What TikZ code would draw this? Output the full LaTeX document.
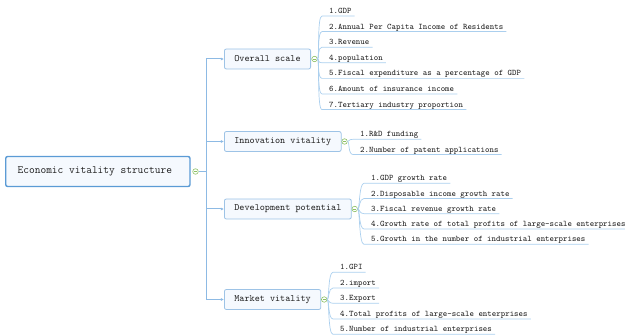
\documentclass[tikz,border=0pt]{standalone}
\usepackage{fontspec}
\usetikzlibrary{arrows.meta,calc}
\definecolor{rootedge}{HTML}{5B9BD5}
\definecolor{branchedge}{HTML}{9DC3E6}
\definecolor{boxfill}{HTML}{F5F9FE}
\definecolor{trunk}{HTML}{8DBAE4}
\definecolor{twigc}{HTML}{ABCFEE}
\definecolor{knob}{HTML}{8CC063}
\definecolor{ink}{HTML}{1E1E1E}
\begin{document}
\begin{tikzpicture}[x=1pt,y=-1pt,
  rootbox/.style={draw=rootedge,line width=1.4pt,fill=boxfill,rounded corners=2pt,
    anchor=west,minimum height=30pt,inner xsep=12pt,text=ink,
    font=\ttfamily\fontsize{11.1}{13}\selectfont},
  branchbox/.style={draw=branchedge,line width=0.8pt,fill=boxfill,rounded corners=2pt,
    anchor=west,minimum height=20pt,inner xsep=10pt,text=ink,
    font=\ttfamily\fontsize{9.7}{11}\selectfont},
  leaf/.style={anchor=south west,inner xsep=3pt,inner ysep=0.6pt,text height=6.5pt,
    text depth=1.6pt,text=ink,font=\ttfamily\fontsize{8.5}{10}\selectfont},
  toggle/.style={circle,draw=knob,fill=white,line width=0.6pt,minimum size=5.5pt,
    inner sep=0pt,path picture={\draw[knob,line width=0.5pt]
      ([xshift=-1.6pt]path picture bounding box.center) -- ([xshift=1.6pt]path picture bounding box.center);}},
  trunkline/.style={draw=trunk,line width=1pt},
  arrowline/.style={trunkline,-{Latex[length=3.2pt,width=3.2pt]}},
  twig/.style={draw=twigc,line width=0.7pt},
]
\useasboundingbox (0,0) rectangle (625,336);

% root topic
\node[rootbox] (root) at (5,171.5) {Economic vitality structure\hspace*{6pt}};
\node[toggle] (rk) at (195.5,171.5) {};
\coordinate (sp) at (206,171.5);

% main topics
\node[branchbox] (b1) at (224,59) {Overall scale};
\node[branchbox] (b2) at (224,141.5) {Innovation vitality};
\node[branchbox] (b3) at (224,209) {Development potential};
\node[branchbox] (b4) at (224,299.5) {Market vitality};

\draw[trunkline] (rk.east) -- (sp);
\foreach \b in {b1,b2,b3,b4}{
  \draw[arrowline] (sp) |- (\b.west);
}

\node[toggle] (k1) at ($(b1.east)+(3.5,0)$) {};
\node[toggle] (k2) at ($(b2.east)+(3,0)$) {};
\node[toggle] (k3) at ($(b3.east)+(3,0)$) {};
\node[toggle] (k4) at ($(b4.east)+(3,0)$) {};

% subtopics: text sits on its own underline
\node[leaf] (a1) at (322,16)    {\hspace*{4pt}1.GDP};
\node[leaf] (a2) at (322,31.6)  {\hspace*{4pt}2.Annual Per Capita Income of Residents};
\node[leaf] (a3) at (322,47.2)  {\hspace*{4pt}3.Revenue};
\node[leaf] (a4) at (322,62.8)  {\hspace*{4pt}4.population};
\node[leaf] (a5) at (322,78.4)  {\hspace*{4pt}5.Fiscal expenditure as a percentage of GDP};
\node[leaf] (a6) at (322,94)    {\hspace*{4pt}6.Amount of insurance income};
\node[leaf] (a7) at (322,109.6) {\hspace*{4pt}7.Tertiary industry proportion};

\node[leaf] (c1) at (353,139.3) {\hspace*{4pt}1.R\&D funding};
\node[leaf] (c2) at (353,154.5) {\hspace*{4pt}2.Number of patent applications};

\node[leaf] (d1) at (364,183.3) {\hspace*{4pt}1.GDP growth rate};
\node[leaf] (d2) at (364,198.5) {\hspace*{4pt}2.Disposable income growth rate};
\node[leaf] (d3) at (364,213.7) {\hspace*{4pt}3.Fiscal revenue growth rate};
\node[leaf] (d4) at (364,229)   {\hspace*{4pt}4.Growth rate of total profits of large-scale enterprises};
\node[leaf] (d5) at (364,244.3) {\hspace*{4pt}5.Growth in the number of industrial enterprises};

\node[leaf] (m1) at (333,272.3) {\hspace*{4pt}1.GPI};
\node[leaf] (m2) at (333,288)   {\hspace*{4pt}2.import};
\node[leaf] (m3) at (333,303.3) {\hspace*{4pt}3.Export};
\node[leaf] (m4) at (333,319)   {\hspace*{4pt}4.Total profits of large-scale enterprises};
\node[leaf] (m5) at (333,334.3) {\hspace*{4pt}5.Number of industrial enterprises};

% curved connectors ending in underlines
\foreach \k/\list in {k1/{a1,a2,a3,a4,a5,a6,a7},k2/{c1,c2},k3/{d1,d2,d3,d4,d5},k4/{m1,m2,m3,m4,m5}}{
  \foreach \n in \list{
    \draw[twig] (\k.east) .. controls +(2,0) and +(-5,0) .. (\n.south west) -- (\n.south east);
  }
}
\end{tikzpicture}
\end{document}
